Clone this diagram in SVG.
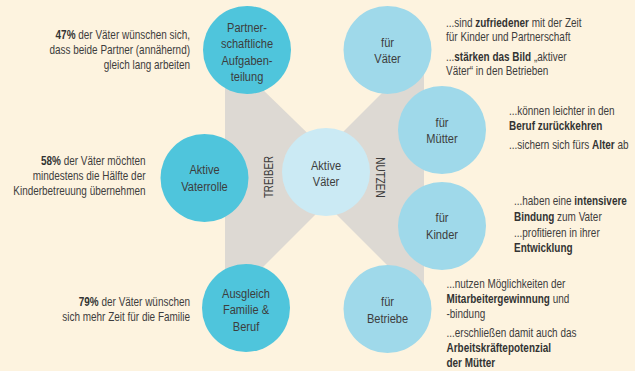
<svg xmlns="http://www.w3.org/2000/svg" width="635" height="371" viewBox="0 0 635 371">
<style>
text{font-family:"Liberation Sans",Arial,sans-serif;fill:#3d3d3d}
.d{font-size:12px}
.n{font-size:13.5px;text-anchor:middle}
.l{text-anchor:end}
.b{font-weight:bold;fill:#333}
.lc{fill:#4fc5dc}
.rc{fill:#9fd9ea}
.cc{fill:#cbeaf4}
.g{fill:#ddd9d3}
</style>
<rect width="635" height="371" fill="#fdf3df"/>
<g id="connectors">
<polygon class="g" points="225,60 258,85 330,155 330,200 258,272 225,300"/>
<polygon class="g" points="330,145 395,80 395,50 424,50 424,300 395,300 392,270 330,208"/>
</g>
<g id="n-partner"><circle class="lc" cx="247" cy="50" r="44"/>
<text class="n" transform="matrix(.82 0 0 1 247 31.5)">Partner-</text><text class="n" transform="matrix(.82 0 0 1 247 48)">schaftliche</text><text class="n" transform="matrix(.82 0 0 1 247 64.5)">Aufgaben-</text><text class="n" transform="matrix(.82 0 0 1 247 81)">teilung</text></g>
<g id="n-vaterrolle"><circle class="lc" cx="204.5" cy="178" r="44"/>
<text class="n" transform="matrix(.82 0 0 1 204.5 173.5)">Aktive</text><text class="n" transform="matrix(.82 0 0 1 204.5 190.5)">Vaterrolle</text></g>
<g id="n-ausgleich"><circle class="lc" cx="246" cy="308" r="44"/>
<text class="n" transform="matrix(.82 0 0 1 246 297.5)">Ausgleich</text><text class="n" transform="matrix(.82 0 0 1 246 314)">Familie &amp;</text><text class="n" transform="matrix(.82 0 0 1 246 330.5)">Beruf</text></g>
<g id="n-center"><circle class="cc" cx="326" cy="172" r="44"/>
<text class="n" transform="matrix(.82 0 0 1 326 169.5)">Aktive</text><text class="n" transform="matrix(.82 0 0 1 326 185.5)">Väter</text></g>
<g id="n-vaeter"><circle class="rc" cx="387.5" cy="50" r="44"/>
<text class="n" transform="matrix(.82 0 0 1 387.5 46.5)">für</text><text class="n" transform="matrix(.82 0 0 1 387.5 63)">Väter</text></g>
<g id="n-muetter"><circle class="rc" cx="442" cy="130" r="44"/>
<text class="n" transform="matrix(.82 0 0 1 442 126.5)">für</text><text class="n" transform="matrix(.82 0 0 1 442 143)">Mütter</text></g>
<g id="n-kinder"><circle class="rc" cx="442" cy="226" r="44"/>
<text class="n" transform="matrix(.82 0 0 1 442 221.5)">für</text><text class="n" transform="matrix(.82 0 0 1 442 238.5)">Kinder</text></g>
<g id="n-betriebe"><circle class="rc" cx="387.5" cy="309" r="44"/>
<text class="n" transform="matrix(.82 0 0 1 387.5 306)">für</text><text class="n" transform="matrix(.82 0 0 1 387.5 322.5)">Betriebe</text></g>
<g id="labels">
<text class="n" transform="translate(272.5,177) rotate(-90) scale(.78,1)" style="font-size:12.5px">TREIBER</text>
<text class="n" transform="translate(375.5,177.5) rotate(90) scale(.8,1)" style="font-size:12.5px">NUTZEN</text>
</g>
<g id="t-left">
<text class="d l" transform="matrix(.83 0 0 1 190 38.5)"><tspan class="b">47%</tspan> der Väter wünschen sich,</text>
<text class="d l" transform="matrix(.83 0 0 1 190 53.5)">dass beide Partner (annähernd)</text>
<text class="d l" transform="matrix(.83 0 0 1 190 68.5)">gleich lang arbeiten</text>
<text class="d l" transform="matrix(.83 0 0 1 145.5 165)"><tspan class="b">58%</tspan> der Väter möchten</text>
<text class="d l" transform="matrix(.83 0 0 1 145.5 180)">mindestens die Hälfte der</text>
<text class="d l" transform="matrix(.83 0 0 1 145.5 194.5)">Kinderbetreuung übernehmen</text>
<text class="d l" transform="matrix(.83 0 0 1 190 305.5)"><tspan class="b">79%</tspan> der Väter wünschen</text>
<text class="d l" transform="matrix(.83 0 0 1 190 320.5)">sich mehr Zeit für die Familie</text>
</g>
<g id="t-right">
<text class="d" transform="matrix(.83 0 0 1 446 26.5)">...sind <tspan class="b">zufriedener</tspan> mit der Zeit</text>
<text class="d" transform="matrix(.83 0 0 1 446 41)">für Kinder und Partnerschaft</text>
<text class="d" transform="matrix(.83 0 0 1 446 61)">...<tspan class="b">stärken das Bild</tspan> „aktiver</text>
<text class="d" transform="matrix(.83 0 0 1 446 75)">Väter“ in den Betrieben</text>
<text class="d" transform="matrix(.83 0 0 1 509 114.5)">...können leichter in den</text>
<text class="d b" transform="matrix(.83 0 0 1 509 130)">Beruf zurückkehren</text>
<text class="d" transform="matrix(.83 0 0 1 509 148.5)">...sichern sich fürs <tspan class="b">Alter</tspan> ab</text>
<text class="d" transform="matrix(.83 0 0 1 514 205)">...haben eine <tspan class="b">intensivere</tspan></text>
<text class="d" transform="matrix(.83 0 0 1 514 220.5)"><tspan class="b">Bindung</tspan> zum Vater</text>
<text class="d" transform="matrix(.83 0 0 1 514 237)">...profitieren in ihrer</text>
<text class="d b" transform="matrix(.83 0 0 1 514 252)">Entwicklung</text>
<text class="d" transform="matrix(.83 0 0 1 446.5 287.5)">...nutzen Möglichkeiten der</text>
<text class="d" transform="matrix(.83 0 0 1 446.5 303)"><tspan class="b">Mitarbeitergewinnung</tspan> und</text>
<text class="d" transform="matrix(.83 0 0 1 446.5 318)">-bindung</text>
<text class="d" transform="matrix(.83 0 0 1 446.5 336.5)">...erschließen damit auch das</text>
<text class="d b" transform="matrix(.83 0 0 1 446.5 351.5)">Arbeitskräftepotenzial</text>
<text class="d b" transform="matrix(.83 0 0 1 446.5 366.5)">der Mütter</text>
</g>
</svg>
